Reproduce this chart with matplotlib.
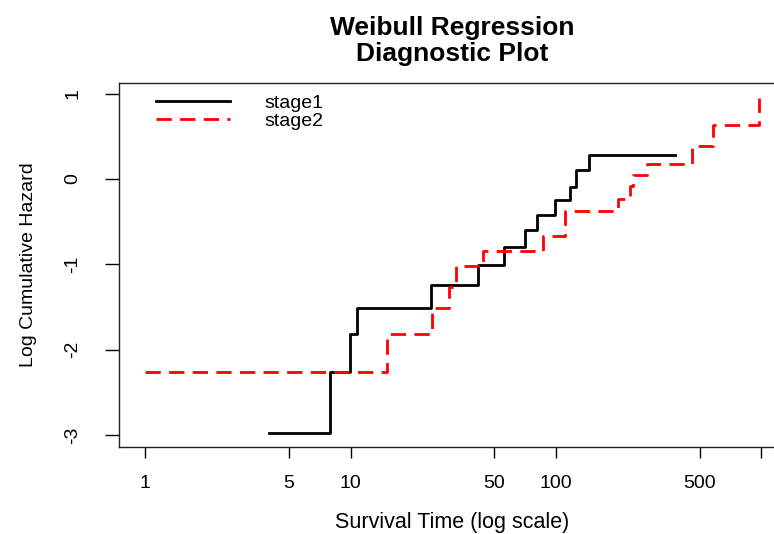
import numpy as np
import matplotlib
matplotlib.use("Agg")
import matplotlib.pyplot as plt

plt.rcParams['font.family'] = ['Liberation Sans', 'DejaVu Sans']
plt.rcParams['lines.scale_dashes'] = False

# step data (time, log cumulative hazard)
stage1_time = [4.0, 7.9, 9.9, 10.7, 24.6, 41.9, 56, 70.7, 80.5, 99, 117, 125, 144, 379]
stage1_lch = [-2.97, -2.26, -1.82, -1.51, -1.24, -1.01, -0.80, -0.60, -0.42, -0.25,
              -0.09, 0.10, 0.28, 0.28]
stage2_time = [1, 15, 25, 30, 32.5, 44, 86, 110, 200, 228, 238, 276, 457, 578, 977]
stage2_lch = [-2.26, -1.82, -1.51, -1.26, -1.02, -0.84, -0.67, -0.38, -0.23, -0.08,
              0.05, 0.18, 0.39, 0.63, 0.95]

x_ticks = [1, 5, 10, 50, 100, 500, 1000]
x_tick_labels = ['1', '5', '10', '50', '100', '500', '']
y_ticks = [1, 0, -1, -2, -3]

fig = plt.figure(figsize=(7.74, 5.34), dpi=100)
# axes runs past the right edge like the cropped original
ax = fig.add_axes([119 / 774, 87 / 534, 667 / 774, 364 / 534])

ax.step(stage1_time, stage1_lch, where='post', color='black', lw=2, label='stage1')
ax.step(stage2_time, stage2_lch, where='post', color='red', lw=2,
        dashes=(11, 6), label='stage2')

ax.set_xscale('log')
ax.set_xlim(0.746, 1316)
ax.set_ylim(-3.138, 1.124)

ax.set_xticks(x_ticks)
ax.set_xticklabels(x_tick_labels)
ax.xaxis.set_minor_locator(matplotlib.ticker.NullLocator())
ax.set_yticks(y_ticks)
ax.set_yticklabels([str(v) for v in y_ticks])

ax.tick_params(axis='x', length=8, width=1, pad=12, labelsize=14)
ax.tick_params(axis='y', length=10, width=1, pad=17, labelsize=14, labelrotation=90)
for lab in ax.get_yticklabels():
    lab.set_verticalalignment('center')

for s in ax.spines.values():
    s.set_linewidth(1.0)
    s.set_color('#222222')

ax.set_xlabel('Survival Time (log scale)', fontsize=15.5)
ax.xaxis.set_label_coords(0.5, -0.178)
ax.set_ylabel('Log Cumulative Hazard', fontsize=14)
ax.yaxis.set_label_coords(-0.123, 0.5)

fig.text(452 / 774, 1 - 41 / 534, 'Weibull Regression\nDiagnostic Plot',
         ha='center', va='center', fontsize=19, fontweight='bold', linespacing=1.15)

ax.legend(loc='upper left', bbox_to_anchor=(0.055, 0.968), frameon=False,
          fontsize=14, handlelength=3.8, handletextpad=1.8, labelspacing=0.0,
          borderpad=0, borderaxespad=0)

fig.savefig('out.png', dpi=100)
